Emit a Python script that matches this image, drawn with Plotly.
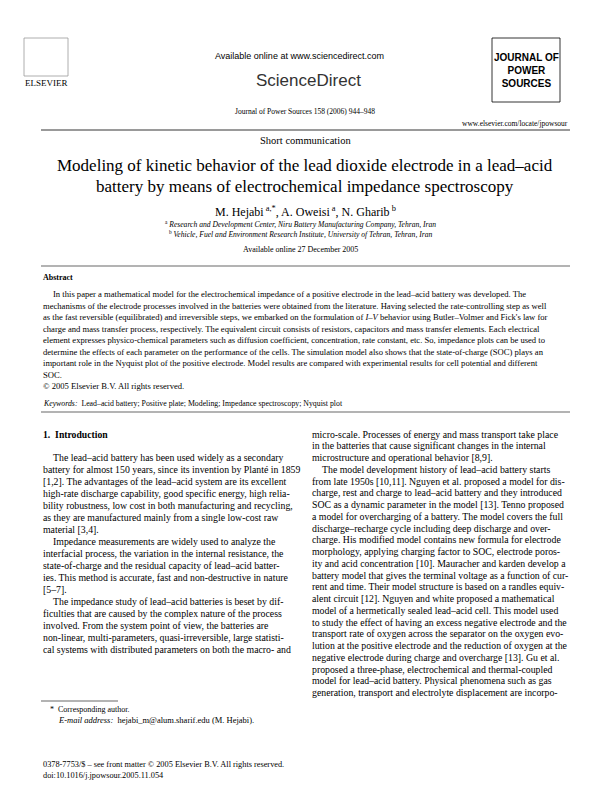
import plotly.graph_objects as go

SERIF = "Liberation Serif"

header_lines = ["Available online at www.sciencedirect.com",
                "Journal of Power Sources 158 (2006) 944–948"]
title_lines = ["Modeling of kinetic behavior of the lead dioxide electrode in a lead–acid",
               "battery by means of electrochemical impedance spectroscopy"]
authors = "M. Hejabi<sup> a,*</sup>, A. Oweisi<sup> a</sup>, N. Gharib<sup> b</sup>"
affiliations = ["<sup>a</sup> <i>Research and Development Center, Niru Battery Manufacturing Company, Tehran, Iran</i>",
                "<sup>b</sup> <i>Vehicle, Fuel and Environment Research Institute, University of Tehran, Tehran, Iran</i>"]

abstract_lines = [
    "In this paper a mathematical model for the electrochemical impedance of a positive electrode in the lead–acid battery was developed. The",
    "mechanisms of the electrode processes involved in the batteries were obtained from the literature. Having selected the rate-controlling step as well",
    "as the fast reversible (equilibrated) and irreversible steps, we embarked on the formulation of <i>I–V</i> behavior using Butler–Volmer and Fick's law for",
    "charge and mass transfer process, respectively. The equivalent circuit consists of resistors, capacitors and mass transfer elements. Each electrical",
    "element expresses physico-chemical parameters such as diffusion coefficient, concentration, rate constant, etc. So, impedance plots can be used to",
    "determine the effects of each parameter on the performance of the cells. The simulation model also shows that the state-of-charge (SOC) plays an",
    "important role in the Nyquist plot of the positive electrode. Model results are compared with experimental results for cell potential and different",
    "SOC.",
    "© 2005 Elsevier B.V. All rights reserved.",
]
abstract_indent = [1, 0, 0, 0, 0, 0, 0, 0, 0]

left_lines = [
    "The lead–acid battery has been used widely as a secondary",
    "battery for almost 150 years, since its invention by Planté in 1859",
    "[1,2]. The advantages of the lead–acid system are its excellent",
    "high-rate discharge capability, good specific energy, high relia-",
    "bility robustness, low cost in both manufacturing and recycling,",
    "as they are manufactured mainly from a single low-cost raw",
    "material [3,4].",
    "Impedance measurements are widely used to analyze the",
    "interfacial process, the variation in the internal resistance, the",
    "state-of-charge and the residual capacity of lead–acid batter-",
    "ies. This method is accurate, fast and non-destructive in nature",
    "[5–7].",
    "The impedance study of lead–acid batteries is beset by dif-",
    "ficulties that are caused by the complex nature of the process",
    "involved. From the system point of view, the batteries are",
    "non-linear, multi-parameters, quasi-irreversible, large statisti-",
    "cal systems with distributed parameters on both the macro- and",
]
left_indent = [1, 0, 0, 0, 0, 0, 0, 1, 0, 0, 0, 0, 1, 0, 0, 0, 0]

right_lines = [
    "micro-scale. Processes of energy and mass transport take place",
    "in the batteries that cause significant changes in the internal",
    "microstructure and operational behavior [8,9].",
    "The model development history of lead–acid battery starts",
    "from late 1950s [10,11]. Nguyen et al. proposed a model for dis-",
    "charge, rest and charge to lead–acid battery and they introduced",
    "SOC as a dynamic parameter in the model [13]. Tenno proposed",
    "a model for overcharging of a battery. The model covers the full",
    "discharge–recharge cycle including deep discharge and over-",
    "charge. His modified model contains new formula for electrode",
    "morphology, applying charging factor to SOC, electrode poros-",
    "ity and acid concentration [10]. Mauracher and karden develop a",
    "battery model that gives the terminal voltage as a function of cur-",
    "rent and time. Their model structure is based on a randles equiv-",
    "alent circuit [12]. Nguyen and white proposed a mathematical",
    "model of a hermetically sealed lead–acid cell. This model used",
    "to study the effect of having an excess negative electrode and the",
    "transport rate of oxygen across the separator on the oxygen evo-",
    "lution at the positive electrode and the reduction of oxygen at the",
    "negative electrode during charge and overcharge [13]. Gu et al.",
    "proposed a three-phase, electrochemical and thermal-coupled",
    "model for lead–acid battery. Physical phenomena such as gas",
    "generation, transport and electrolyte displacement are incorpo-",
]
right_indent = [0, 0, 0, 1] + [0] * 19

footer_lines = ["0378-7753/$ – see front matter © 2005 Elsevier B.V. All rights reserved.",
                "doi:10.1016/j.jpowsour.2005.11.054"]

fig = go.Figure()
ann = []


def txt(x, y, s, size=9, anchor="left", family=SERIF, color="black"):
    ann.append(dict(x=x, y=y, text=s, showarrow=False, xanchor=anchor, yanchor="middle",
                    font=dict(size=size, family=family, color=color)))


# header
txt(291, 48, header_lines[0], 9, "center", "Liberation Sans")
txt(300, 72, "ScienceDirect", 17, "center", "Liberation Sans", "#333")
txt(297, 103, header_lines[1], 7.5, "center")
txt(38, 75, "ELSEVIER", 9, "center")
txt(518, 62, "<b>JOURNAL OF<br>POWER<br>SOURCES</b>", 10, "center", "Liberation Sans")
txt(562, 115, "www.elsevier.com/locate/jpowsour", 7.5, "right")
txt(297, 132, "Short communication", 10.5, "center")
for i, s in enumerate(title_lines):
    txt(297, 157 + i * 21, s, 17, "center")
txt(297, 203, authors, 12, "center")
for i, s in enumerate(affiliations):
    txt(292, 216 + i * 10, s, 7.6, "center")
txt(292, 241, "Available online 27 December 2005", 8, "center")

txt(33, 269, "<b>Abstract</b>", 8)
for i, s in enumerate(abstract_lines):
    txt(33 + 10 * abstract_indent[i], 286 + i * 11.5, s, 8.6)
txt(33, 395, "<i>Keywords:</i>  Lead–acid battery; Positive plate; Modeling; Impedance spectroscopy; Nyquist plot", 7.8)

txt(33, 426, "<b>1.  Introduction</b>", 9.7)
for i, s in enumerate(left_lines):
    txt(33 + 10 * left_indent[i], 449 + i * 12, s, 9.8)
for i, s in enumerate(right_lines):
    txt(302 + 10 * right_indent[i], 426 + i * 11.75, s, 9.8)

txt(40, 701, "*  Corresponding author.", 8)
txt(48, 712, "<i>E-mail address:</i>  hejabi_m@alum.sharif.edu (M. Hejabi).", 8.5)
for i, s in enumerate(footer_lines):
    txt(33, 756 + i * 11, s, 8.3)

shapes = [
    dict(type="line", x0=33, x1=562, y0=122, y1=122, line=dict(color="black", width=0.8)),
    dict(type="line", x0=33, x1=562, y0=258, y1=258, line=dict(color="black", width=0.6)),
    dict(type="line", x0=33, x1=562, y0=404, y1=404, line=dict(color="black", width=0.6)),
    dict(type="line", x0=33, x1=110, y0=693, y1=693, line=dict(color="black", width=0.6)),
    dict(type="rect", x0=484, x1=552, y0=30, y1=94, line=dict(color="black", width=0.8)),
    dict(type="rect", x0=16, x1=60, y0=30, y1=68, line=dict(color="#999", width=0.8)),
]

fig.update_layout(
    width=595, height=794, margin=dict(l=0, r=0, t=0, b=0),
    paper_bgcolor="white", plot_bgcolor="white",
    xaxis=dict(range=[0, 595], visible=False, fixedrange=True),
    yaxis=dict(range=[794, 0], visible=False, fixedrange=True),
    annotations=ann, shapes=shapes, showlegend=False,
)
fig.write_html("out.html")
